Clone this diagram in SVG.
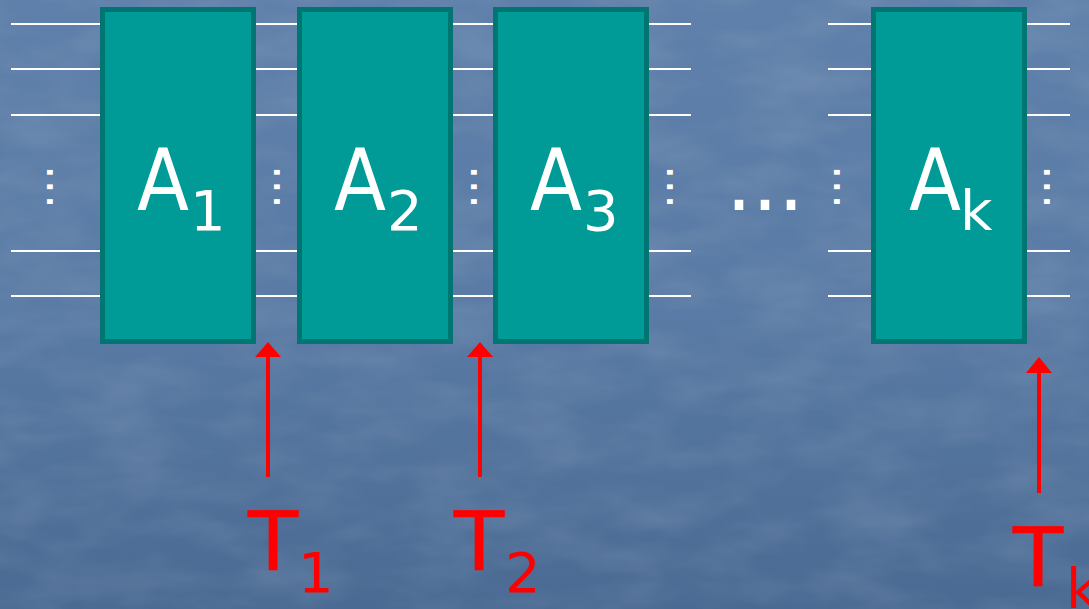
<svg xmlns="http://www.w3.org/2000/svg" width="1089" height="609" viewBox="0 0 1089 609">
<defs>
<linearGradient id="bg" x1="0" y1="0" x2="0" y2="1">
<stop offset="0" stop-color="#5f80aa"/>
<stop offset="0.5" stop-color="#5a7ba5"/>
<stop offset="1" stop-color="#4a6a93"/>
</linearGradient>
<filter id="tex" x="0" y="0" width="100%" height="100%">
<feTurbulence type="fractalNoise" baseFrequency="0.012 0.03" numOctaves="3" seed="4" result="n"/>
<feColorMatrix in="n" type="matrix" values="0 0 0 0 1  0 0 0 0 1  0 0 0 0 1  0 0 0 0.35 -0.12"/>
</filter>
<style>
.box{fill:#009a97;stroke:#007571;stroke-width:5}
.w{stroke:#ffffff;stroke-width:2}
.lbl{font-family:"DejaVu Sans","Liberation Sans",sans-serif;fill:#ffffff}
.big{font-size:86px}
.sub{font-size:56px}
.red{font-family:"DejaVu Sans","Liberation Sans",sans-serif;fill:#ff0000}
.tt{font-size:82px;stroke:#ff0000;stroke-width:0.6}
.dots{font-family:"DejaVu Sans",sans-serif;fill:#ffffff;font-size:46px}
.arr{stroke:#ff0000;stroke-width:4;fill:none}
.head{fill:#ff0000}
</style>
</defs>
<rect width="1089" height="609" fill="url(#bg)"/>
<rect width="1089" height="609" filter="url(#tex)" opacity="0.5"/>

<g id="wires">
<path class="w" d="M11,24H100M11,69H100M11,115H100M11,251H100M11,296H100"/>
<path class="w" d="M255,24H297M255,69H297M255,115H297M255,251H297M255,296H297"/>
<path class="w" d="M452,24H494M452,69H494M452,115H494M452,251H494M452,296H494"/>
<path class="w" d="M648,24H691M648,69H691M648,115H691M648,251H691M648,296H691"/>
<path class="w" d="M828,24H871M828,69H871M828,115H871M828,251H871M828,296H871"/>
<path class="w" d="M1027,24H1070M1027,69H1070M1027,115H1070M1027,251H1070M1027,296H1070"/>
</g>

<g id="A1">
<rect class="box" x="102.5" y="9.5" width="151" height="332"/>
<text class="lbl big" x="137" y="210" textLength="52" lengthAdjust="spacingAndGlyphs">A</text>
<text class="lbl sub" x="190" y="230">1</text>
</g>
<g id="A2">
<rect class="box" x="299.5" y="9.5" width="151" height="332"/>
<text class="lbl big" x="334" y="210" textLength="52" lengthAdjust="spacingAndGlyphs">A</text>
<text class="lbl sub" x="387" y="230">2</text>
</g>
<g id="A3">
<rect class="box" x="495.5" y="9.5" width="151" height="332"/>
<text class="lbl big" x="530" y="210" textLength="52" lengthAdjust="spacingAndGlyphs">A</text>
<text class="lbl sub" x="583" y="230">3</text>
</g>
<g id="Ak">
<rect class="box" x="873.5" y="9.5" width="151" height="332"/>
<text class="lbl big" x="909" y="210" textLength="52" lengthAdjust="spacingAndGlyphs">A</text>
<text class="lbl sub" x="960" y="230">k</text>
</g>

<g id="ellipses">
<text class="dots" transform="translate(47,165) rotate(90)">...</text>
<text class="dots" transform="translate(274,165) rotate(90)">...</text>
<text class="dots" transform="translate(471,165) rotate(90)">...</text>
<text class="dots" transform="translate(667,165) rotate(90)">...</text>
<text class="dots" transform="translate(834,165) rotate(90)">...</text>
<text class="dots" transform="translate(1044,165) rotate(90)">...</text>
<text class="lbl" x="765" y="210" font-size="82" text-anchor="middle">...</text>
</g>

<g id="connectors">
<line class="arr" x1="268" y1="477" x2="268" y2="357"/>
<path class="head" d="M255,357 L268,342 L281,357 Z"/>
<line class="arr" x1="480" y1="477" x2="480" y2="357"/>
<path class="head" d="M467,357 L480,342 L493,357 Z"/>
<line class="arr" x1="1039" y1="493" x2="1039" y2="373"/>
<path class="head" d="M1026,373 L1039,357 L1052,373 Z"/>
</g>

<g id="T1">
<text class="red tt" x="248" y="570">T</text>
<text class="red sub" x="298" y="592">1</text>
</g>
<g id="T2">
<text class="red tt" x="454" y="570">T</text>
<text class="red sub" x="505" y="592">2</text>
</g>
<g id="Tk">
<text class="red tt" x="1013" y="586">T</text>
<text class="red sub" x="1066" y="608">k</text>
</g>
</svg>
